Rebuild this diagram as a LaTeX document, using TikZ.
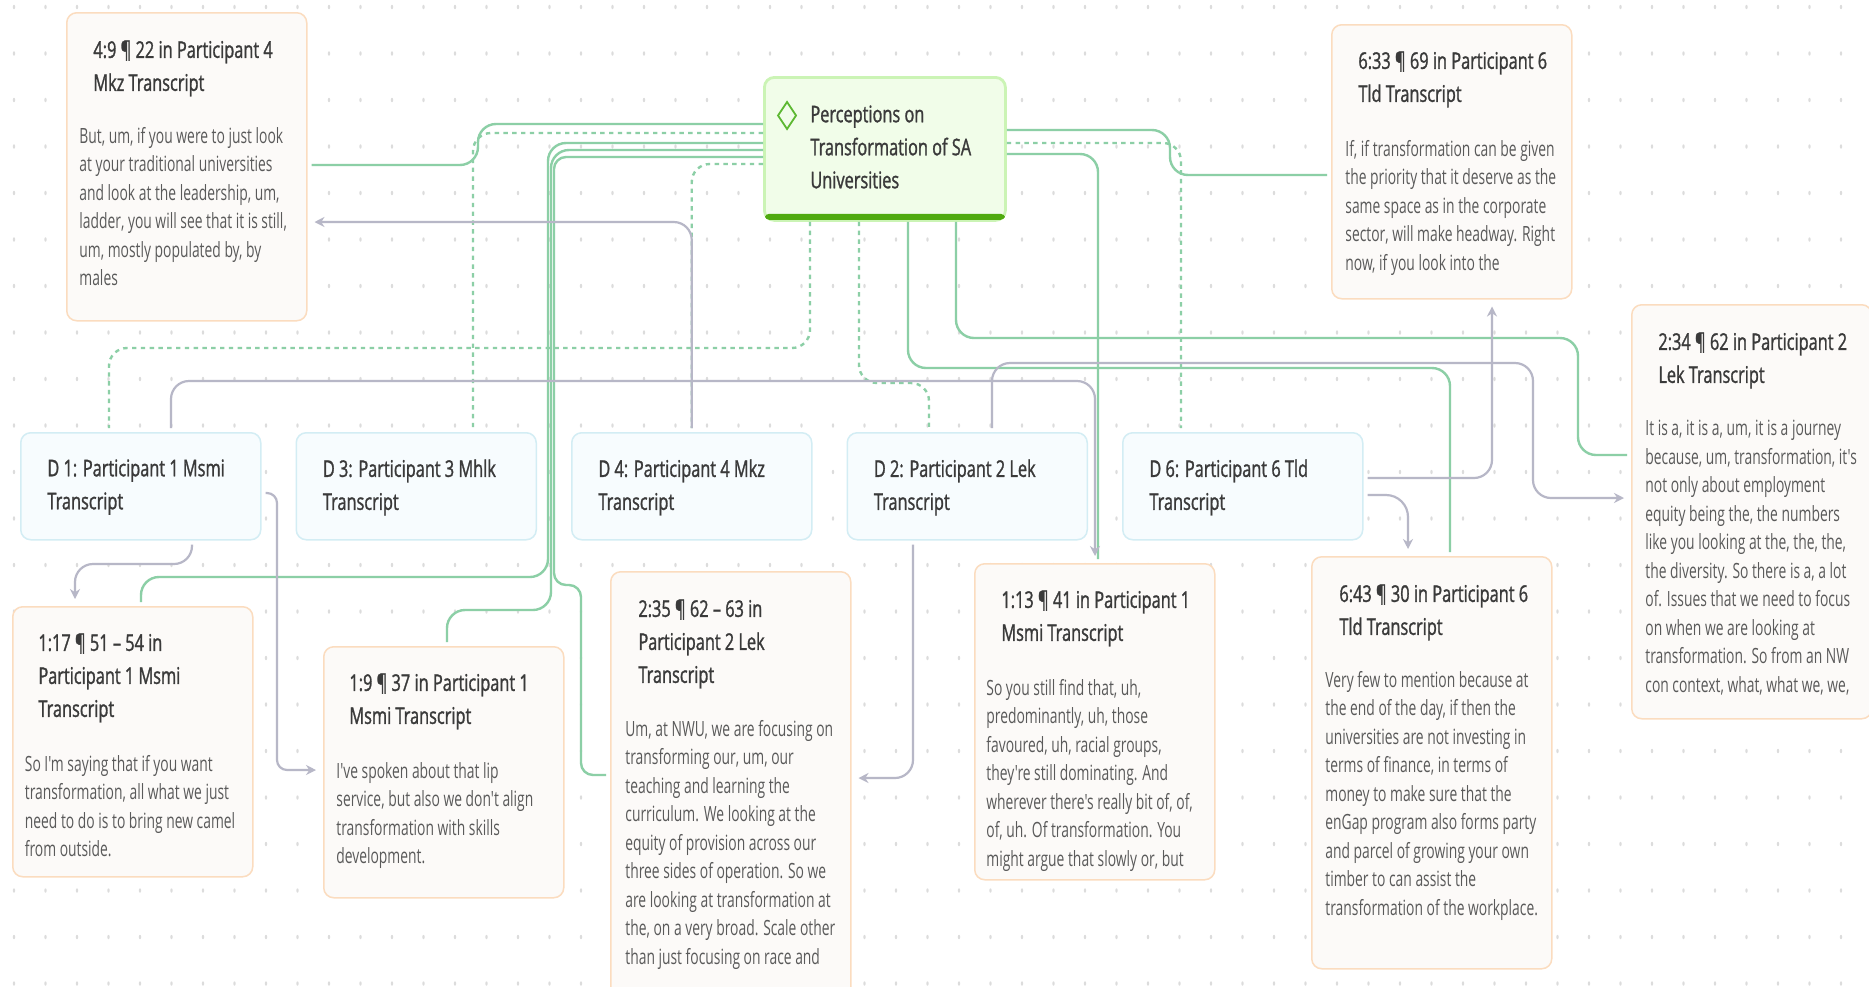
\documentclass[tikz,border=0pt]{standalone}
\usepackage{fontspec}
\usepackage{xcolor}
\usetikzlibrary{arrows.meta, positioning}
\newfontfamily\ttlfont{Open Sans}[FakeStretch=0.71, FakeBold=1.2]
\newfontfamily\bdyfont{Open Sans}[FakeStretch=0.66]
\definecolor{qborder}{HTML}{FBDCBF}
\definecolor{qfill}{HTML}{FCFAF8}
\definecolor{dborder}{HTML}{D3EDF4}
\definecolor{dfill}{HTML}{F7FCFE}
\definecolor{cborder}{HTML}{CBF4B5}
\definecolor{cfill}{HTML}{F1FDE9}
\definecolor{cbar}{HTML}{4FAA0F}
\definecolor{cicon}{HTML}{5DB832}
\definecolor{linkc}{HTML}{8CCFA6}
\definecolor{refc}{HTML}{B7B7C7}
\definecolor{griddot}{HTML}{DCDCDC}
\definecolor{ttlc}{HTML}{3A3A3A}
\definecolor{bdyc}{HTML}{5A5A5A}
\begin{document}
\begin{tikzpicture}[
        x=0.5pt, y=-0.5pt,
        node distance=17pt,
        quote/.style={rectangle, draw=qborder, fill=qfill, rounded corners=5pt,
            line width=0.75pt, minimum width=120pt, anchor=north west, inner sep=0pt},
        doc/.style={rectangle, draw=dborder, fill=dfill, rounded corners=5pt,
            line width=0.75pt, minimum width=120pt, minimum height=53.5pt,
            anchor=north west, inner sep=0pt},
        code/.style={rectangle, draw=cborder, fill=cfill, rounded corners=5pt,
            line width=1.4pt, minimum width=120.5pt, minimum height=71.5pt,
            anchor=north west, inner sep=0pt},
        % first line top sits 10pt / 9pt above its baseline
        ttl/.style={anchor=north west, align=left, inner sep=0pt, text=ttlc,
            font=\ttlfont\fontsize{11.5}{16.5}\selectfont,
            execute at begin node={\rule{0pt}{10pt}}},
        bdy/.style={anchor=north west, align=left, inner sep=0pt, text=bdyc,
            font=\bdyfont\fontsize{10.5}{14.25}\selectfont,
            execute at begin node={\rule{0pt}{9pt}}},
        link/.style={draw=linkc, line width=1.2pt, rounded corners=9pt, shorten >=2pt},
        dlink/.style={link, dash pattern=on 2.2pt off 2.2pt},
        ref/.style={draw=refc, line width=1.1pt, rounded corners=9pt,
            shorten <=2pt, shorten >=3.5pt, -{Stealth[length=5pt, width=5pt]}}
    ]
        \useasboundingbox (0,0) rectangle (1869,986);
        \fill[white] (0,0) rectangle (1869,986);
        \clip (0,0) rectangle (1869,986);

        % dotted canvas
        \foreach \i in {0,...,59}
            \foreach \j in {0,...,21}
                \fill[griddot] ({14+31.5*\i},{7+46.5*\j}) ellipse (0.6pt and 1.1pt);

        % code
        \node[code] (cen) at (763,76) {};
        \fill[cbar, rounded corners=2pt] ([shift={(2,-8)}]cen.south west) rectangle ([shift={(-2,-2)}]cen.south east);
        \draw[cicon, line width=0.9pt] ([shift={(24,26)}]cen.north west) -- ++(9,13.5) -- ++(-9,13.5) -- ++(-9,-13.5) -- cycle;
        \node[ttl] (cent) at ([shift={(47,29)}]cen.north west) {Perceptions on\\Transformation of SA\\Universities};

        % documents
        \node[doc] (d1) at (20,432) {};
        \node[doc, right=of d1] (d3) {};
        \node[doc, right=of d3] (d4) {};
        \node[doc, right=of d4] (d2) {};
        \node[doc, right=of d2] (d6) {};
        \node[ttl] at ([shift={(27,27)}]d1.north west) {D 1: Participant 1 Msmi\\Transcript};
        \node[ttl] at ([shift={(27,27)}]d3.north west) {D 3: Participant 3 Mhlk\\Transcript};
        \node[ttl] at ([shift={(27,27)}]d4.north west) {D 4: Participant 4 Mkz\\Transcript};
        \node[ttl] at ([shift={(27,27)}]d2.north west) {D 2: Participant 2 Lek\\Transcript};
        \node[ttl] at ([shift={(27,27)}]d6.north west) {D 6: Participant 6 Tld\\Transcript};

        % quotations
        \node[quote, minimum height=154pt] (q49) at (66,12) {};
        \node[ttl] (t49) at ([shift={(27,28)}]q49.north west) {4:9 ¶ 22 in Participant 4\\Mkz Transcript};
        \node[bdy] (b49) at ([shift={(13,115)}]q49.north west) {But, um, if you were to just look\\at your traditional universities\\and look at the leadership, um,\\ladder, you will see that it is still,\\um, mostly populated by, by\\males};

        \node[quote, minimum height=137pt] (q633) at (1331,24) {};
        \node[ttl] (t633) at ([shift={(27,27)}]q633.north west) {6:33 ¶ 69 in Participant 6\\Tld Transcript};
        \node[bdy] (b633) at ([shift={(14,116)}]q633.north west) {If, if transformation can be given\\the priority that it deserve as the\\same space as in the corporate\\sector, will make headway. Right\\now, if you look into the};

        \node[quote, minimum height=207pt] (q234) at (1631,304) {};
        \node[ttl] (t234) at ([shift={(27,28)}]q234.north west) {2:34 ¶ 62 in Participant 2\\Lek Transcript};
        \node[bdy] (b234) at ([shift={(14,116)}]q234.north west) {It is a, it is a, um, it is a journey\\because, um, transformation, it's\\not only about employment\\equity being the, the numbers\\like you looking at the, the, the,\\the diversity. So there is a, a lot\\of. Issues that we need to focus\\on when we are looking at\\transformation. So from an NW\\con context, what, what we, we,};

        \node[quote, minimum height=135pt] (q117) at (12,606) {};
        \node[ttl] (t117) at ([shift={(26,27)}]q117.north west) {1:17 ¶ 51 – 54 in\\Participant 1 Msmi\\Transcript};
        \node[bdy] (b117) at ([shift={(12.5,149)}]q117.north west) {So I'm saying that if you want\\transformation, all what we just\\need to do is to bring new camel\\from outside.};

        \node[quote, minimum height=125.5pt] (q19) at (323,646) {};
        \node[ttl] (t19) at ([shift={(26,27)}]q19.north west) {1:9 ¶ 37 in Participant 1\\Msmi Transcript};
        \node[bdy] (b19) at ([shift={(13,116)}]q19.north west) {I've spoken about that lip\\service, but also we don't align\\transformation with skills\\development.};

        \node[quote, minimum height=215pt] (q235) at (610,571) {};
        \node[ttl] (t235) at ([shift={(28,28)}]q235.north west) {2:35 ¶ 62 – 63 in\\Participant 2 Lek\\Transcript};
        \node[bdy] (b235) at ([shift={(15,149)}]q235.north west) {Um, at NWU, we are focusing on\\transforming our, um, our\\teaching and learning the\\curriculum. We looking at the\\equity of provision across our\\three sides of operation. So we\\are looking at transformation at\\the, on a very broad. Scale other\\than just focusing on race and};

        \node[quote, minimum height=158pt] (q113) at (974,563) {};
        \node[ttl] (t113) at ([shift={(27,27)}]q113.north west) {1:13 ¶ 41 in Participant 1\\Msmi Transcript};
        \node[bdy] (b113) at ([shift={(12,116)}]q113.north west) {So you still find that, uh,\\predominantly, uh, those\\favoured, uh, racial groups,\\they're still dominating. And\\wherever there's really bit of, of,\\of, uh. Of transformation. You\\might argue that slowly or, but};

        \node[quote, minimum height=206pt] (q643) at (1311,556) {};
        \node[ttl] (t643) at ([shift={(28,28)}]q643.north west) {6:43 ¶ 30 in Participant 6\\Tld Transcript};
        \node[bdy] (b643) at ([shift={(14,115)}]q643.north west) {Very few to mention because at\\the end of the day, if then the\\universities are not investing in\\terms of finance, in terms of\\money to make sure that the\\enGap program also forms party\\and parcel of growing your own\\timber to can assist the\\transformation of the workplace.};

        % code to quotations
        \draw[link] (cen.west |- 0,124) -- (478,124) |- (q49.east |- 0,165);
        \draw[link] (cen.west |- 0,143) -| (548,577) -| (q117.north -| 141,0);
        \draw[link] (cen.west |- 0,150) -| (551,610) -| (q19.north -| 447,0);
        \draw[link, rounded corners=6pt] (cen.west |- 0,157) -| (554,585) -| (581,775) -- (q235.west |- 0,775);
        \draw[link] (cen.east |- 0,130) -- (1170,130) -- (1170,175) -- (q633.west |- 0,175);
        \draw[link] (cen.east |- 0,154) -| (q113.north -| 1098,0);
        \draw[link] (cen.south -| 908,0) |- (1450,368) -- (q643.north -| 1450,0);
        \draw[link] (cen.south -| 956,0) |- (1578,338) |- (q234.west |- 0,455);

        % code to documents
        \draw[dlink] (cen.west |- 0,133) -| (d3.north -| 473,0);
        \draw[dlink] (cen.west |- 0,164) -| (d4.north);
        \draw[dlink] (cen.south -| 810,0) |- (109,348) -- (d1.north -| 109,0);
        \draw[dlink] (cen.south -| 859,0) |- (929,383) -- (d2.north -| 929,0);
        \draw[dlink] (cen.east |- 0,143) -| (d6.north -| 1181,0);

        % documents to quotations
        \draw[ref] (d1.south -| 192,0) |- (75,564) -- (q117.north -| 75,0);
        \draw[ref, rounded corners=5pt] (d1.east |- 0,493) -| (277,770) -- (q19.west |- 0,770);
        \draw[ref] (d1.north -| 171,0) |- (1095,381) -- (q113.north -| 1095,0);
        \draw[ref] (d4.north) |- (q49.east |- 0,222);
        \draw[ref] (d2.north -| 992,0) |- (1533,363) |- (q234.west |- 0,498);
        \draw[ref] (d2.south -| 913,0) |- (q235.east |- 0,778);
        \draw[ref] (d6.east |- 0,478) -| (q633.south -| 1492,0);
        \draw[ref, rounded corners=11pt] (d6.east |- 0,495) -| (q643.north -| 1408,0);
    \end{tikzpicture}
\end{document}
